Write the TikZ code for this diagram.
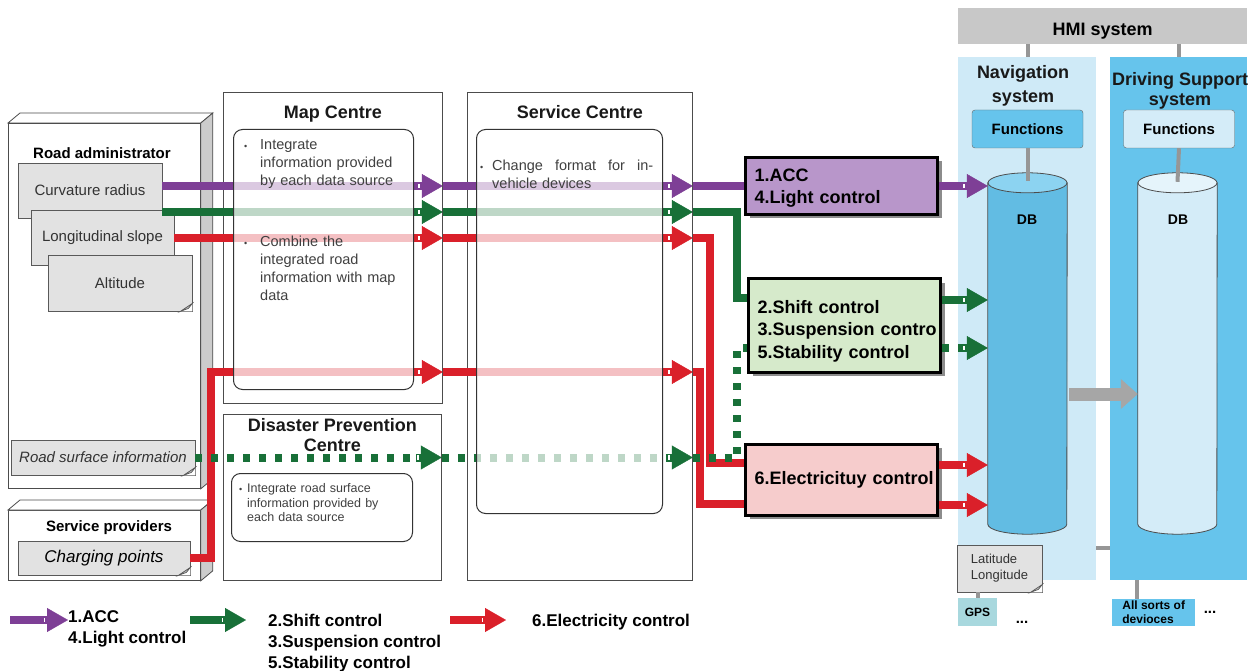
\documentclass[tikz,border=0pt]{standalone}
\usepackage{fontspec}
\setmainfont{Liberation Sans}
\usetikzlibrary{positioning,arrows.meta,shadows}

\definecolor{accPurple}{RGB}{126,63,150}
\definecolor{ctrlGreen}{RGB}{24,112,56}
\definecolor{elecRed}{RGB}{218,32,42}
\definecolor{accFill}{RGB}{184,150,202}
\definecolor{shiftFill}{RGB}{214,234,203}
\definecolor{elecFill}{RGB}{246,204,204}
\definecolor{docGrey}{RGB}{226,226,226}
\definecolor{linkGrey}{RGB}{150,150,150}
\definecolor{hmiGrey}{RGB}{200,200,200}
\definecolor{navBlue}{RGB}{207,234,247}
\definecolor{midBlue}{RGB}{102,196,236}
\definecolor{paleBlue}{RGB}{212,236,248}
\definecolor{gpsTeal}{RGB}{168,216,222}

\tikzset{
	feed/.style={line width=8pt, draw=#1, -{Rectangle[length=5pt,width=8pt,line width=1.6pt,fill=white]Triangle[length=21pt,width=24pt,line width=0.4pt]}},
	route/.style={line width=8pt, draw=#1},
	dashfeed/.style={feed=ctrlGreen, dash pattern=on 7pt off 9pt},
	dashroute/.style={route=ctrlGreen, dash pattern=on 7pt off 9pt},
	sourcebox/.style={draw=black!70, line width=0.8pt, fill=white, anchor=north west},
	centrebox/.style={draw=black!70, line width=0.8pt, anchor=north west},
	taskbox/.style={draw=black!80, line width=1pt, rounded corners=9pt, fill=white, fill opacity=0.72, anchor=north west},
	doc/.style={draw=black!65, fill=docGrey, line width=0.8pt, text=black!80, font=\fontsize{15}{18}\selectfont},
	ttl/.style={font=\bfseries\fontsize{18}{20}\selectfont, align=center, text=black!90},
	body/.style={font=\fontsize{14.5}{18}\selectfont, text=black!75, align=left, anchor=north west, inner sep=0pt},
	ctrl/.style={draw=black, line width=3pt, font=\bfseries\fontsize{18}{22.5}\selectfont, align=left, text width=174pt, inner xsep=9pt, drop shadow={shadow xshift=4pt, shadow yshift=-4pt, fill=black!45, opacity=1}},
	dbspace/.style={minimum width=79pt, minimum height=361pt, inner sep=0pt},
	link/.style={draw=linkGrey, line width=4pt},
	legtext/.style={font=\bfseries\fontsize{17}{21}\selectfont, align=left, anchor=north west, inner sep=0pt}
}

\newcommand{\cubeside}[1]{%
	\filldraw[draw=black!70, line width=0.8pt, fill=white] (#1.north west) -- ++(12,-10) -- ([shift={(12,-10)}]#1.north east) -- (#1.north east) -- cycle;
	\filldraw[draw=black!70, line width=0.8pt, fill=black!20] (#1.north east) -- ++(12,-10) -- ([shift={(12,-10)}]#1.south east) -- (#1.south east) -- cycle;}
\newcommand{\docfold}[1]{%
	\fill[white] ([xshift=-12pt]#1.south east) -- (#1.south east) -- ([yshift=8pt]#1.south east) -- cycle;
	\filldraw[draw=black!65, line width=0.7pt, fill=docGrey!85!black] ([xshift=-12pt]#1.south east) -- ([yshift=8pt]#1.south east) -- ([xshift=-4pt,yshift=3pt]#1.south east) -- cycle;}
\newcommand{\drum}[3]{%
	\filldraw[draw=black!70, line width=0.8pt, fill=#2] ([yshift=-10pt]#1.north west) -- ([yshift=10pt]#1.south west) arc[start angle=180, end angle=0, x radius=39.5, y radius=10] -- ([yshift=-10pt]#1.north east) -- cycle;
	\filldraw[draw=black!70, line width=0.8pt, fill=#3] ([yshift=-10pt]#1.north) ellipse[x radius=39.5, y radius=10];}
\newcommand{\dotmark}[1]{\llap{{\fontsize{9}{9}\selectfont\textbullet}\hspace{#1}}}

\begin{document}
\begin{tikzpicture}[x=1pt,y=-1pt]
	\useasboundingbox (0,0) rectangle (1254,671);

	% sources on the left
	\node[sourcebox, minimum width=192pt, minimum height=365pt] (road) at (8,123) {};
	\node[sourcebox, minimum width=192pt, minimum height=70pt] (prov) at (8,510) {};
	\cubeside{road}
	\cubeside{prov}
	\node[font=\bfseries\fontsize{15}{18}\selectfont] (roadT) at (102,153) {Road administrator};
	\node[font=\bfseries\fontsize{15}{18}\selectfont] (provT) at (109,528) {Service providers};

	\node[doc, minimum width=144pt, minimum height=55pt] (curv) at (90,190.5) {Curvature radius\hspace{16pt}};
	\docfold{curv}
	\node[doc, minimum width=143pt, minimum height=55pt] (slope) at (102.5,237.5) {Longitudinal slope};
	\docfold{slope}
	\node[doc, minimum width=144pt, minimum height=56pt] (alt) at (120,283) {Altitude\hspace{36pt}};
	\docfold{alt}
	\node[doc, minimum width=184pt, minimum height=35pt] (surf) at (103,457.5) {\itshape Road surface information};
	\docfold{surf}
	\node[doc, minimum width=172pt, minimum height=34pt, font=\itshape\fontsize{17}{20}\selectfont, text=black] (charge) at (104,558) {Charging points};
	\docfold{charge}

	% centres
	\node[centrebox, minimum width=219pt, minimum height=311pt] (map) at (223,92) {};
	\node[ttl, below=10pt of map.north] (mapT) {Map Centre};
	\node[centrebox, minimum width=218pt, minimum height=166pt] (dis) at (223,414) {};
	\node[ttl, below=1pt of dis.north] (disT) {Disaster Prevention\\Centre};
	\node[centrebox, minimum width=225pt, minimum height=488pt] (svc) at (467,92) {};
	\node[ttl, below=10pt of svc.north] (svcT) {Service Centre};

	% vehicle side
	\node[fill=hmiGrey, minimum width=289pt, minimum height=36pt, text height=19pt, text depth=0pt, anchor=north west, font=\bfseries\fontsize{18}{20}\selectfont] (hmi) at (958,8) {HMI system};
	\node[fill=navBlue, minimum width=138pt, minimum height=523pt, anchor=north west] (nav) at (958,57) {};
	\node[fill=midBlue, minimum width=137pt, minimum height=523pt, anchor=north west] (drv) at (1110,57) {};
	\node[ttl, font=\bfseries\fontsize{18}{24}\selectfont] (navT) at (1023,86) {Navigation\\system};
	\node[ttl, font=\bfseries\fontsize{18}{20}\selectfont] (drvT) at (1180,91) {Driving Support\\system};
	\node[draw=black!60, fill=midBlue, rounded corners=3pt, minimum width=111pt, minimum height=38pt, font=\bfseries\fontsize{15}{18}\selectfont] (navF) at (1027.5,129) {Functions};
	\node[draw=black!60, fill=paleBlue, rounded corners=3pt, minimum width=111pt, minimum height=38pt, font=\bfseries\fontsize{15}{18}\selectfont] (drvF) at (1179,129) {Functions};
	\node[dbspace] (navDB) at (1027.5,353.5) {};
	\drum{navDB}{midBlue!96!black}{midBlue!75!white}
	\node[dbspace] (drvDB) at (1177.5,353.5) {};
	\drum{drvDB}{paleBlue}{paleBlue!60!white}
	\node[font=\bfseries\fontsize{14}{16}\selectfont] (navLbl) at (1027,220) {DB};
	\node[font=\bfseries\fontsize{14}{16}\selectfont] (drvLbl) at (1178,220) {DB};
	\draw[link] (hmi.south -| navF.north) -- (nav.north -| navF.north);
	\draw[link] (hmi.south -| drvF.north) -- (drv.north -| drvF.north);
	\draw[link] (navF.south) -- ([yshift=-8pt]navDB.north);
	\draw[link] (drvF.south) -- ([yshift=-9pt]drvDB.north);
	\draw[link] (nav.east |- 0,548) -- (drv.west |- 0,548);
	\draw[draw=black!35, line width=13pt, -{Triangle[length=17pt,width=29pt]}] ([xshift=2pt]navDB.east |- 0,394) -- (drvDB.west |- 0,394);

	\node[doc, minimum width=85pt, minimum height=47pt, align=left, font=\fontsize{13}{16}\selectfont] (geo) at (999.5,568.5) {Latitude\\Longitude};
	\docfold{geo}
	\node[fill=gpsTeal, minimum width=39pt, minimum height=28pt, font=\bfseries\fontsize{12}{14}\selectfont] (gps) at (977.5,612) {GPS};
	\draw[link] (gps.north |- geo.south) -- (gps.north);
	\node[font=\bfseries\fontsize{15}{16}\selectfont] (gpsMore) at (1022,622) {...};
	\node[fill=midBlue, minimum width=83pt, minimum height=27pt, anchor=north west, align=left, inner sep=2pt, font=\bfseries\fontsize{12}{14}\selectfont] (dev) at (1112,599) {All sorts of\\devioces};
	\draw[link] ([xshift=25pt]dev.north west |- drv.south) -- ([xshift=25pt]dev.north west);
	\node[font=\bfseries\fontsize{15}{16}\selectfont] (devMore) at (1210,612) {...};

	% rows of data flow
	\coordinate (rowP) at (0,186);
	\coordinate (rowG) at (0,212);
	\coordinate (rowR) at (0,238);
	\coordinate (rowL) at (0,372);
	\coordinate (accIn) at (745,186);
	\coordinate (shiftInA) at (748,298);
	\coordinate (shiftInB) at (748,348);
	\coordinate (elecInA) at (745,463);
	\coordinate (elecInB) at (745,504);

	\draw[feed=accPurple] (curv.east |- rowP) -- (map.east |- rowP);
	\draw[feed=accPurple] (map.east |- rowP) -- (svc.east |- rowP);
	\draw[route=accPurple] (svc.east |- rowP) -- (accIn);

	\draw[feed=ctrlGreen] (curv.east |- rowG) -- (map.east |- rowG);
	\draw[feed=ctrlGreen] (map.east |- rowG) -- (svc.east |- rowG);
	\draw[route=ctrlGreen] (svc.east |- rowG) -| ([xshift=-11pt]shiftInA) -- (shiftInA);

	\draw[feed=elecRed] (slope.east |- rowR) -- (map.east |- rowR);
	\draw[feed=elecRed] (map.east |- rowR) -- (svc.east |- rowR);
	\draw[route=elecRed] (svc.east |- rowR) -| ([xshift=-35pt]elecInA) -- (elecInA);

	\draw[feed=elecRed] (charge.east) -| ([xshift=-12pt]map.west |- rowL) -- (map.east |- rowL);
	\draw[feed=elecRed] (map.east |- rowL) -- (svc.east |- rowL);
	\draw[route=elecRed] (svc.east |- rowL) -| ([xshift=-45pt]elecInB) -- (elecInB);

	\draw[dashfeed] (surf.east) -- (dis.east |- surf.east);
	\draw[dashfeed] (dis.east |- surf.east) -- (svc.east |- surf.east);
	\draw[dashroute] (svc.east |- surf.east) -| ([xshift=-11pt]shiftInB) -- (shiftInB);

	% processing inside the centres
	\node[taskbox, minimum width=180pt, minimum height=260pt] (mapIn) at (233,129) {};
	\node[taskbox, minimum width=186pt, minimum height=384pt] (svcIn) at (476,129) {};
	\node[taskbox, minimum width=181pt, minimum height=68pt] (disIn) at (231,473) {};
	\node[body, text width=150pt] (mapTx1) at (260,139.5) {\dotmark{13pt}Integrate\\information provided\\by each data source};
	\node[body, text width=150pt] (mapTx2) at (260,235.5) {\dotmark{13pt}Combine the\\integrated road\\information with map\\data};
	\node[body, text width=161pt] (svcTx) at (492,159.5) {\dotmark{9pt}Change\hfill format\hfill for\hfill in-\\vehicle devices};
	\node[body, font=\fontsize{12.5}{14.5}\selectfont, text width=170pt] (disTx) at (247,483.5) {\dotmark{5pt}Integrate road surface\\information provided by\\each data source};

	% control functions
	\node[ctrl, fill=accFill, minimum height=57pt] (acc) at (841.5,186) {\rule{0pt}{17pt}1.ACC\\4.Light control};
	\node[ctrl, fill=shiftFill, minimum height=93pt] (shift) at (844.5,325.5) {\rule{0pt}{24pt}2.Shift control\\\mbox{3.Suspension contro}\\5.Stability control};
	\node[ctrl, fill=elecFill, minimum height=71pt] (elec) at (841.5,479.5) {\mbox{6.Electricituy control}};

	\draw[feed=accPurple] (acc.east) -- (navDB.west |- acc.east);
	\draw[feed=ctrlGreen] (shift.east |- 0,300) -- (navDB.west |- 0,300);
	\draw[dashfeed] (shift.east |- 0,348) -- (navDB.west |- 0,348);
	\draw[feed=elecRed] (elec.east |- 0,465) -- (navDB.west |- 0,465);
	\draw[feed=elecRed] (elec.east |- 0,505) -- (navDB.west |- 0,505);

	% legend
	\node[legtext] (legP) at (68,610) {1.ACC\\4.Light control};
	\node[legtext] (legG) at (268,614) {2.Shift control\\3.Suspension control\\5.Stability control};
	\node[legtext] (legR) at (532,614) {6.Electricity control};
	\coordinate (legPa) at (10,620);
	\coordinate (legGa) at (190,620);
	\coordinate (legRa) at (450,620);
	\draw[feed=accPurple] (legPa) -- (legP.west |- legPa);
	\draw[feed=ctrlGreen] (legGa) -- ([xshift=-22pt]legG.west |- legGa);
	\draw[feed=elecRed] (legRa) -- ([xshift=-26pt]legR.west |- legRa);
\end{tikzpicture}
\end{document}
